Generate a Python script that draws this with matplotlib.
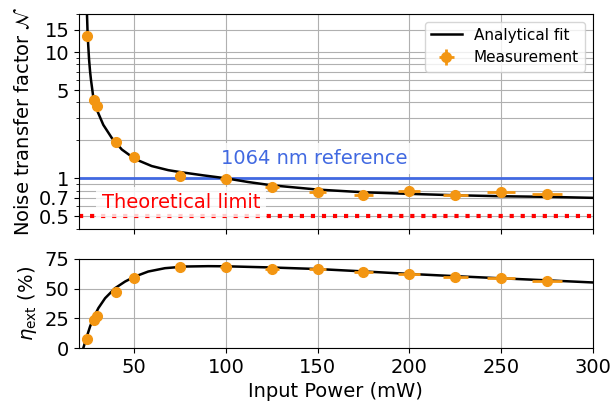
import matplotlib
matplotlib.use("Agg")
import matplotlib.pyplot as plt
from matplotlib.ticker import FixedLocator, NullFormatter, LogLocator, FixedFormatter

plt.rcParams['font.size'] = 14

# measured points
p_meas = [24.5, 28, 30, 40, 50, 75, 100, 125, 150, 175, 200, 225, 250, 275]
p_err = [0.7, 0.8, 0.9, 1.2, 1.5, 2.3, 3.0, 3.8, 4.5, 5.3, 6.0, 6.8, 7.5, 8.3]
n_meas = [13.3, 4.14, 3.76, 1.93, 1.47, 1.05, 0.99, 0.855, 0.775, 0.743, 0.789, 0.743, 0.775, 0.752]
n_err = [0.3, 0.1, 0.1, 0.04, 0.03, 0.02, 0.02, 0.02, 0.02, 0.02, 0.02, 0.02, 0.02, 0.02]
eta_meas = [8.1, 23.5, 27.1, 47.6, 59.1, 68.1, 68.1, 66.6, 66.6, 64.4, 61.9, 60.2, 58.8, 56.3]
eta_err = [1.0, 1.0, 1.0, 1.0, 1.0, 1.0, 1.0, 1.0, 1.0, 1.0, 1.0, 1.0, 1.0, 1.0]

# analytical fit curves
fit_p = [24.3, 24.7, 25.45, 26.0, 26.5, 27.8, 30.2, 33.2, 37.8, 43.3, 50.5, 59.6, 68.6, 75,
         87.7, 100, 112, 125, 150, 175, 200, 225, 250, 275, 300]
fit_n = [20.1, 13.3, 8.7, 7.0, 6.0, 4.33, 3.35, 2.65, 2.09, 1.69, 1.42, 1.25, 1.16, 1.12,
         1.055, 1.0, 0.935, 0.88, 0.814, 0.775, 0.753, 0.734, 0.721, 0.713, 0.70]
eta_fit_p = [22.3, 24.2, 26.0, 27.8, 30.5, 34.2, 39.6, 45.1, 50.5, 57.7, 66.8, 77.7, 90.4,
             100, 125, 150, 175, 200, 225, 250, 275, 300]
eta_fit = [0, 9.6, 18.2, 25.2, 33.6, 42.0, 50.4, 56.0, 60.2, 64.4, 67.2, 68.6, 68.9,
           68.8, 67.8, 66.5, 64.5, 62.4, 60.5, 58.7, 57.0, 55.2]

n_ticks = [0.5, 0.7, 1, 5, 10, 15]
n_ticklabels = ['0.5', '0.7', '1', '5', '10', '15']
eta_ticks = [0, 25, 50, 75]

orange = '#f39612'

fig, (ax1, ax2) = plt.subplots(2, 1, sharex=True, figsize=(6.13, 4.12), dpi=100,
                               gridspec_kw=dict(height_ratios=[214.7, 89.3]))
fig.subplots_adjust(left=0.129, right=0.967, top=0.966, bottom=0.155, hspace=0.2)

# top panel
ax1.set_yscale('log')
ax1.axhline(1, color='royalblue', lw=2)
ax1.axhline(0.5, color='red', lw=3, ls=':')
ax1.plot(fit_p, fit_n, color='black', lw=1.8, label='Analytical fit')
ax1.errorbar(p_meas, n_meas, xerr=p_err, yerr=n_err, fmt='o', color=orange,
             ms=7, elinewidth=2, capsize=0, label='Measurement', zorder=4)
ax1.text(148, 1.30, '1064 nm reference', color='royalblue', ha='center', va='baseline',
         bbox=dict(facecolor='white', alpha=0.8, edgecolor='none'))
ax1.text(75.5, 0.585, 'Theoretical limit', color='red', ha='center', va='baseline',
         bbox=dict(facecolor='white', alpha=0.8, edgecolor='none'))
ax1.set_ylim(0.4, 20)
ax1.yaxis.set_major_locator(FixedLocator(n_ticks))
ax1.yaxis.set_major_formatter(FixedFormatter(n_ticklabels))
ax1.yaxis.set_minor_locator(LogLocator(base=10, subs=[2, 3, 4, 6, 7, 8, 9]))
ax1.yaxis.set_minor_formatter(NullFormatter())
ax1.grid(True, which='both', axis='y')
ax1.grid(True, which='major', axis='x')
ax1.set_ylabel(r'Noise transfer factor $\mathcal{N}$')
ax1.legend(loc='upper right', fontsize=11)
ax1.tick_params(labelbottom=False)

# bottom panel
ax2.plot(eta_fit_p, eta_fit, color='black', lw=1.8)
ax2.errorbar(p_meas, eta_meas, xerr=p_err, yerr=eta_err, fmt='o', color=orange,
             ms=7, elinewidth=2, capsize=0, zorder=4)
ax2.set_ylim(0, 75)
ax2.set_yticks(eta_ticks)
ax2.set_xlim(20, 300)
ax2.grid(True)
ax2.set_ylabel(r'$\eta_\mathrm{ext}$ (%)')
ax2.set_xlabel('Input Power (mW)')

fig.savefig('out.png', dpi=100)
